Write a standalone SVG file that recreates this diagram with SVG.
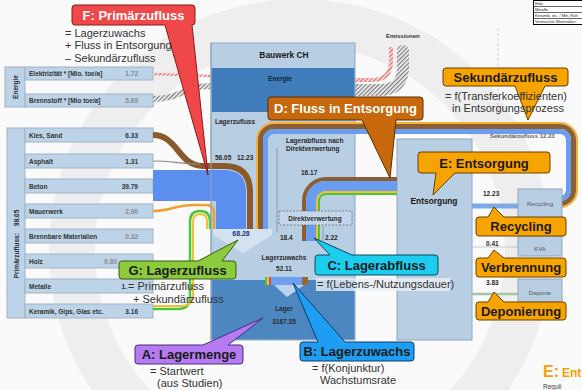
<svg xmlns="http://www.w3.org/2000/svg" width="582" height="390" viewBox="0 0 582 390">
<defs>
<pattern id="hg" width="3" height="3" patternUnits="userSpaceOnUse" patternTransform="rotate(45)"><rect width="3" height="3" fill="#f0f0f0"/><rect width="1.2" height="3" fill="#7a7a7a"/></pattern>
<pattern id="hr" width="3" height="3" patternUnits="userSpaceOnUse" patternTransform="rotate(45)"><rect width="3" height="3" fill="#fde2e2"/><rect width="1.2" height="3" fill="#e86464"/></pattern>
</defs>
<style>
text{font-family:"Liberation Sans",Arial,sans-serif}
.bar{fill:#bdd3e8;stroke:#9fb4c8;stroke-width:1}
.lbl{font-size:6.5px;font-weight:bold;fill:#333}
.val{font-size:6.5px;font-weight:bold;fill:#333;text-anchor:end}
.valg{font-size:6.5px;font-weight:bold;fill:#8a8a8a;text-anchor:end}
.box{fill:#b8cee3;stroke:#8ea6bd;stroke-width:1}
.sm{font-size:6.5px;font-weight:bold;fill:#2a2a2a}
.smc{font-size:6.5px;font-weight:bold;fill:#2a2a2a;text-anchor:middle}
.ct{font-size:13px;font-weight:bold;text-anchor:middle;fill:#1a1a1a}
.sub{font-size:11px;fill:#333}
.fl{fill:none}
.or{fill:#f7a400;stroke:#6a4000;stroke-width:1}
</style>
<rect width="582" height="390" fill="#fafafa"/>
<circle cx="300" cy="250" r="228" fill="none" stroke="#eeeeee" stroke-width="46"/>

<!-- left panels -->
<g id="panel-energie">
<rect class="bar" x="5" y="67" width="20" height="40"/>
<text class="sm" transform="translate(18,87) rotate(-90)" text-anchor="middle" font-size="6">Energie</text>
<rect class="bar" x="25" y="67" width="128" height="13"/>
<text class="lbl" x="29" y="76">Elektrizität * [Mio. toe/a]</text>
<text class="valg" x="138" y="76">1.72</text>
<rect class="bar" x="25" y="94" width="128" height="13"/>
<text class="lbl" x="29" y="103">Brennstoff * [Mio toe/a]</text>
<text class="valg" x="138" y="103">5.69</text>
</g>
<g id="panel-primaer">
<rect class="bar" x="7" y="128" width="18" height="190"/>
<text class="sm" transform="translate(18.5,244) rotate(-90)" text-anchor="middle" xml:space="preserve">Primärzufluss:    98.05</text>
<rect class="bar" x="25" y="128" width="128" height="14"/>
<text class="lbl" x="29" y="138">Kies, Sand</text><text class="val" x="138" y="138">6.33</text>
<rect class="bar" x="25" y="154" width="128" height="14"/>
<text class="lbl" x="29" y="164">Asphalt</text><text class="val" x="138" y="164">1.31</text>
<rect class="bar" x="25" y="179" width="128" height="14"/>
<text class="lbl" x="29" y="189">Beton</text><text class="val" x="138" y="189">39.79</text>
<rect class="bar" x="25" y="204" width="128" height="14"/>
<text class="lbl" x="29" y="214">Mauerwerk</text><text class="valg" x="138" y="214">2.90</text>
<rect class="bar" x="25" y="229" width="128" height="14"/>
<text class="lbl" x="29" y="239">Brennbare Materialien</text><text class="valg" x="138" y="239">0.32</text>
<rect class="bar" x="25" y="254" width="128" height="14"/>
<text class="lbl" x="29" y="264">Holz</text><text class="valg" x="117" y="264">0.80</text>
<rect class="bar" x="25" y="279" width="128" height="14"/>
<text class="lbl" x="29" y="289">Metalle</text><text class="val" x="127" y="289">1.</text>
<rect class="bar" x="25" y="304" width="128" height="14"/>
<text class="lbl" x="29" y="314">Keramik, Gips, Glas etc.</text><text class="val" x="138" y="314">3.16</text>
</g>

<!-- connectors -->
<g id="connectors" class="fl">
<path d="M153,74 L211,76" stroke="url(#hr)" stroke-width="2.5"/>
<path d="M153,99 C180,99 185,86 211,86" stroke="url(#hg)" stroke-width="6"/>
<path d="M345,80 L372,80 Q391,80 391,61 L391,47" stroke="url(#hr)" stroke-width="4"/>
<path d="M345,90 L380,90 Q403,90 403,67 L403,51" stroke="url(#hg)" stroke-width="12" stroke-linecap="round"/>
</g>

<g id="bauwerk">
<rect class="box" x="211" y="43" width="144" height="297"/>
<rect x="211.5" y="68" width="143" height="44" fill="#3f7cb9"/>
<rect x="211.5" y="280" width="143" height="59.5" fill="#4d87c2"/>
<text x="284" y="58" text-anchor="middle" font-size="8.4" font-weight="bold" fill="#1a1a1a">Bauwerk CH</text>
<text x="280" y="81" text-anchor="middle" font-size="6.5" font-weight="bold" fill="#14243a">Energie</text>
<text class="sm" x="215" y="124">Lagerzufluss</text>
</g>

<g id="entsorgung">
<rect class="box" x="397" y="139" width="75" height="201"/>
<text x="434" y="204" text-anchor="middle" font-size="8.4" font-weight="bold" fill="#1a1a1a">Entsorgung</text>
</g>

<g id="flows" class="fl">
<path d="M153,170 L224,170 Q246,170 246,192 L246,230 L216,230 L216,201 L153,201 Z" fill="#5c8ef0" stroke="none"/>
<path d="M153,135 C178,135 178,166 203,166 L224,166 Q250,166 250,192 L250,230" stroke="#8b5a2b" stroke-width="6"/>
<path d="M153,161 C172,161 180,164 200,164" stroke="#888" stroke-width="1.2"/>
<path d="M153,211 C170,211 175,205 195,205 L206,205 Q214,205 214,213 L214,229" stroke="#f0a030" stroke-width="2.5"/>
<path d="M153,309 L178,309 Q190,309 190,297 L190,222 Q190,211 200,211 Q210,211 210,221 L210,229" stroke="#4cc43c" stroke-width="2.5"/>
<path d="M153,306 L181,306 Q193,306 193,294 L193,223 Q193,214 200,214 Q207,214 207,221 L207,229" stroke="#f2c030" stroke-width="2"/>
<path d="M257,230 L257,140 A17,17 0 0 1 274,123 L560,123 A17,17 0 0 1 577,140 L577,190 A17,17 0 0 1 560,207 L548,207" stroke="#f5b335" stroke-width="2"/>
<path d="M260.5,230 L260.5,140 A13.5,13.5 0 0 1 274,126.5 L560,126.5 A13.5,13.5 0 0 1 573.5,140 L573.5,190 A13.5,13.5 0 0 1 560,203.5 L548,203.5" stroke="#8b5e34" stroke-width="5"/>
<path d="M265.5,230 L265.5,140 A8.5,8.5 0 0 1 274,131.5 L560,131.5 A8.5,8.5 0 0 1 568.5,140 L568.5,190 A8.5,8.5 0 0 1 560,198.5 L548,198.5" stroke="#6a9cf0" stroke-width="5"/>
<path d="M304,241 L304,201 A22,22 0 0 1 326,179 L397,179" stroke="#8b5e34" stroke-width="4"/>
<path d="M311,241 L311,201 A15,15 0 0 1 326,186 L397,186" stroke="#6a9cf0" stroke-width="10"/>
<path d="M317,241 L317,201 A9,9 0 0 1 326,192 L397,192" stroke="#f2c030" stroke-width="2"/>
<path d="M319,241 L319,201 A7,7 0 0 1 326,194 L397,194" stroke="#4cc43c" stroke-width="2"/>
<polygon points="213,229 272,229 272,235 243,253 213,235" fill="#d3e1f0" stroke="none"/>
<rect x="265" y="277" width="43" height="8" fill="#6e9ff0" stroke="none"/>
<rect x="265" y="277" width="2" height="8" fill="#4cc43c" stroke="none"/>
<rect x="267" y="277" width="2" height="8" fill="#f2c030" stroke="none"/>
<rect x="269" y="277" width="2" height="8" fill="#e84a3a" stroke="none"/>
<rect x="302" y="277" width="6" height="8" fill="#9a6633" stroke="none"/>
<polygon points="274,285 304,285 287,297" fill="#bcd2ea" stroke="none"/>
<path d="M472,206 L518,206" stroke="#7ea9e8" stroke-width="5"/>
<path d="M472,247 L518,247" stroke="#c8c8c8" stroke-width="1"/>
<path d="M472,294 L518,294" stroke="#a9c4a4" stroke-width="2.5"/>
</g>

<g id="bauwerk-inner">
<line x1="211" y1="43" x2="211" y2="340" stroke="#8ea6bd" stroke-width="1"/>
<line x1="277" y1="148" x2="277" y2="233" stroke="#8a9aaa" stroke-width="1"/>
<line x1="323" y1="226" x2="323" y2="241" stroke="#8a9aaa" stroke-width="1"/>
<rect x="279" y="211" width="73" height="14" fill="#c4d7ea" stroke="#666" stroke-width="0.8" stroke-dasharray="2,1.5"/>
<text class="smc" x="315" y="221">Direktverwertung</text>
<text class="sm" x="215" y="160">56.05</text>
<text class="sm" x="237" y="160">12.23</text>
<text class="sm" x="286" y="143">Lagerabfluss nach</text>
<text class="sm" x="286" y="151">Direktverwertung</text>
<text class="sm" x="301" y="175">16.17</text>
<text class="sm" x="280" y="240">18.4</text>
<text class="sm" x="325" y="240">2.22</text>
<text x="241" y="236" text-anchor="middle" font-size="7" font-weight="bold" fill="#1a3a7a">68.28</text>
<text class="smc" x="284" y="260">Lagerzuwachs</text>
<text class="smc" x="284" y="271">52.11</text>
<text class="smc" x="284" y="311" fill="#14243a">Lager</text>
<text class="smc" x="284" y="324" fill="#14243a">3167.35</text>
<text class="sm" x="483" y="196">12.23</text>
<text class="sm" x="486" y="246">0.41</text>
<text class="sm" x="486" y="285" fill="#888">3.83</text>
<text x="490" y="138" font-size="6" font-weight="bold" fill="#666">Sekundärzufluss 12.23</text>
<text x="386" y="38" font-size="6" font-weight="bold" fill="#333">Emissionen</text>
<line x1="498" y1="28" x2="498" y2="120" stroke="#cfcfcf" stroke-width="1" stroke-dasharray="3,2"/>
</g>

<g id="recycling"><rect class="box" x="518" y="189" width="44" height="29"/><text x="540" y="206" text-anchor="middle" font-size="6" fill="#555">Recycling</text></g>
<g id="kva"><rect class="box" x="518" y="236" width="44" height="20"/><text x="540" y="251" text-anchor="middle" font-size="6" fill="#555">KVA</text></g>
<g id="deponie"><rect class="box" x="518" y="279" width="44" height="23"/><text x="540" y="295" text-anchor="middle" font-size="6" fill="#555">Deponie</text></g>

<g id="callout-F">
<path d="M75,5 H192 Q195,5 195,8 V22 Q195,25 192,25 L208,175 L165,25 H75 Q72,25 72,22 V8 Q72,5 75,5 Z" fill="#f04848" stroke="#8a1a1a"/>
<text class="ct" x="133.5" y="20" style="fill:#fff">F: Primärzufluss</text>
<text class="sub" x="65" y="37">= Lagerzuwachs</text>
<text class="sub" x="65" y="49">+ Fluss in Entsorgung</text>
<text class="sub" x="65" y="62">– Sekundärzufluss</text>
</g>
<g id="callout-D">
<path d="M271,97 H420 Q423,97 423,100 V117 Q423,120 420,120 H396 L390,178 L362,120 H271 Q268,120 268,117 V100 Q268,97 271,97 Z" fill="#c8680c" stroke="#5a2e00"/>
<text class="ct" x="345.5" y="113" style="fill:#fff">D: Fluss in Entsorgung</text>
</g>
<g id="callout-sek">
<path d="M446,68 H565 Q568,68 568,71 V83 Q568,86 565,86 H545 L528,120 L515,86 H446 Q443,86 443,83 V71 Q443,68 446,68 Z" class="or"/>
<text class="ct" x="505.5" y="82">Sekundärzufluss</text>
<text class="sub" x="445" y="100">= f(Transferkoeffizienten)</text>
<text class="sub" x="452" y="112">in Entsorgungsprozess</text>
</g>
<g id="callout-E">
<path d="M421,152 H547 Q550,152 550,155 V170 Q550,173 547,173 H455 L433,195 L436,173 H421 Q418,173 418,170 V155 Q418,152 421,152 Z" class="or"/>
<text class="ct" x="484" y="168">E: Entsorgung</text>
</g>
<g id="callout-recycling">
<path d="M479,217 H488 L494,207 L504,217 H563 Q566,217 566,220 V233 Q566,236 563,236 H479 Q476,236 476,233 V220 Q476,217 479,217 Z" class="or"/>
<text class="ct" x="521" y="231">Recycling</text>
</g>
<g id="callout-verbrennung">
<path d="M479,258 H488 L494,250 L504,258 H563 Q566,258 566,261 V274 Q566,277 563,277 H479 Q476,277 476,274 V261 Q476,258 479,258 Z" class="or"/>
<text class="ct" x="521" y="272">Verbrennung</text>
</g>
<g id="callout-deponierung">
<path d="M479,302 H488 L494,292 L504,302 H563 Q566,302 566,305 V317 Q566,320 563,320 H479 Q476,320 476,317 V305 Q476,302 479,302 Z" class="or"/>
<text class="ct" x="521" y="316">Deponierung</text>
</g>
<g id="callout-G">
<path d="M122,261 H198 L238,240 L222,261 H233 Q236,261 236,264 V276 Q236,279 233,279 H122 Q119,279 119,276 V264 Q119,261 122,261 Z" fill="#8ccc3c" stroke="#3a5a10"/>
<text class="ct" x="177.5" y="275">G: Lagerzufluss</text>
<text class="sub" x="128" y="290">= Primärzufluss</text>
<text class="sub" x="133" y="303">+ Sekundärzufluss</text>
</g>
<g id="callout-A">
<path d="M138,345 H203 L263,318 L228,345 H240 Q243,345 243,348 V361 Q243,364 240,364 H138 Q135,364 135,361 V348 Q135,345 138,345 Z" fill="#b47cf0" stroke="#4a2a80"/>
<text class="ct" x="189" y="359">A: Lagermenge</text>
<text class="sub" x="150" y="375">= Startwert</text>
<text class="sub" x="157" y="387">(aus Studien)</text>
</g>
<g id="callout-B">
<path d="M303,342 H318 L293,283 L345,342 H411 Q414,342 414,345 V358 Q414,361 411,361 H303 Q300,361 300,358 V345 Q300,342 303,342 Z" fill="#1e9ef2" stroke="#0a3a70"/>
<text class="ct" x="357" y="356">B: Lagerzuwachs</text>
<text class="sub" x="312" y="372">= f(Konjunktur)</text>
<text class="sub" x="320" y="384">Wachstumsrate</text>
</g>
<g id="callout-C">
<path d="M318,255 H330 L314,238 L352,255 H435 Q438,255 438,258 V272 Q438,275 435,275 H318 Q315,275 315,272 V258 Q315,255 318,255 Z" fill="#1ccdf0" stroke="#0a4a60"/>
<text class="ct" x="376.5" y="270">C: Lagerabfluss</text>
<rect x="316" y="278" width="134" height="13" fill="#e9eff5" opacity="0.8"/>
<text class="sub" x="317" y="288">= f(Lebens-/Nutzungsdauer)</text>
</g>

<g id="legend">
<rect x="533.5" y="0.5" width="52" height="24" fill="#fff" stroke="#000" stroke-width="1"/>
<line x1="533.5" y1="6.5" x2="582" y2="6.5" stroke="#000" stroke-width="0.6"/>
<line x1="533.5" y1="12.5" x2="582" y2="12.5" stroke="#000" stroke-width="0.6"/>
<line x1="533.5" y1="18.5" x2="582" y2="18.5" stroke="#000" stroke-width="0.6"/>
<text x="535" y="5" font-size="4" fill="#222">Holz</text>
<text x="535" y="11" font-size="4" fill="#222">Metalle</text>
<text x="535" y="17" font-size="4" fill="#222">Keramik, etc. / Min. Roh</text>
<text x="535" y="23" font-size="4" fill="#222">Vermischte Materialien</text>
</g>
<g id="corner-title">
<text x="543" y="377" font-size="16" font-weight="bold" fill="#f5a000">E:</text>
<text x="562" y="377" font-size="12" font-weight="bold" fill="#f5a000">Ent</text>
<text x="543" y="389" font-size="6.5" fill="#444">Reguli</text>
</g>
</svg>
